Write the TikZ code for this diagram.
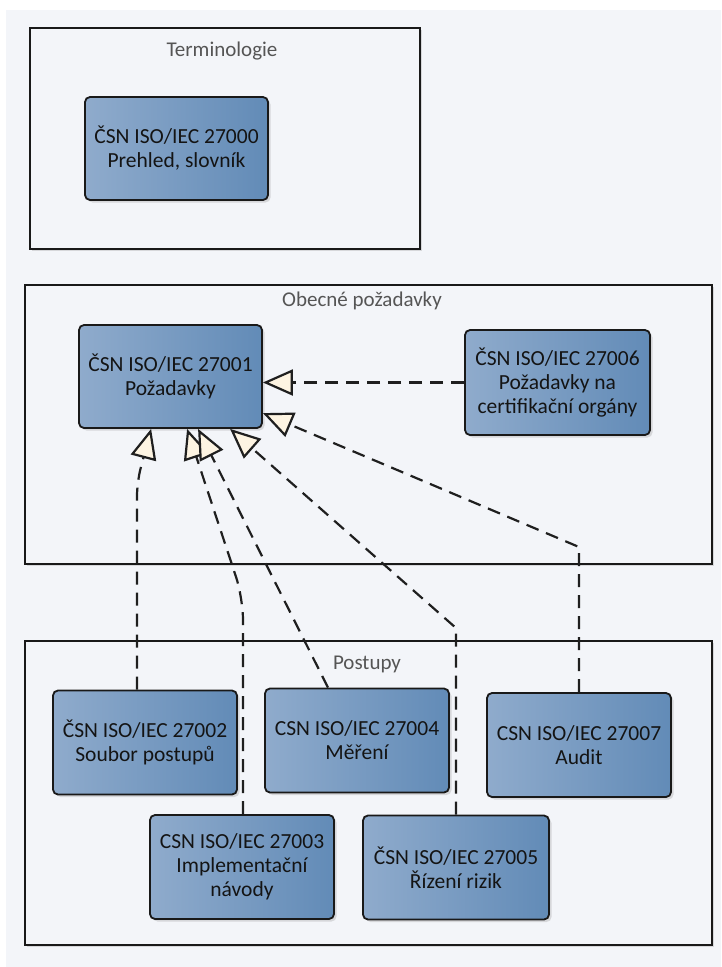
\documentclass[tikz,border=0pt]{standalone}
\usepackage{fontspec}
\setmainfont{Carlito}
\usetikzlibrary{arrows.meta,shadows,calc}
\definecolor{bgc}{RGB}{243,245,249}
\definecolor{boxL}{RGB}{143,171,204}
\definecolor{boxR}{RGB}{98,139,183}
\definecolor{tipc}{RGB}{253,244,226}
\definecolor{ttlc}{RGB}{85,85,85}
\begin{document}
\begin{tikzpicture}[x=1pt,y=-1pt,
  frm/.style={draw=black!90, line width=1.8pt, fill=bgc, drop shadow={shadow xshift=1.5pt, shadow yshift=-1.5pt, opacity=0.25}},
  ttl/.style={text=ttlc, font=\fontsize{21}{24}\selectfont, inner sep=0pt},
  std/.style={draw=black!90, line width=1.8pt, rounded corners=5pt, left color=boxL, right color=boxR,
    minimum width=184pt, minimum height=104pt, align=center, inner sep=2pt,
    font=\fontsize{21.5}{24}\selectfont, text=black!92,
    drop shadow={shadow xshift=2.5pt, shadow yshift=-2.5pt, opacity=0.25}},
  dep/.style={draw=black!88, line width=2.2pt, dash pattern=on 13pt off 8pt, line join=miter,
    -{Triangle[length=30pt,width=26pt,fill=tipc]}}
]
\useasboundingbox (0,0) rectangle (721,967);
\fill[white] (0,0) rectangle (721,967);
\fill[bgc] (6,10) rectangle (721,967);

% frames
\node[frm, minimum width=390pt, minimum height=221pt] (fT) at (225,138.5) {};
\node[frm, minimum width=687pt, minimum height=279pt] (fO) at (368.5,424.5) {};
\node[frm, minimum width=687pt, minimum height=304pt] (fP) at (368.5,793) {};
\node[ttl] (tT) at (222,51) {Terminologie};
\node[ttl] (tO) at (362,301) {Obecné požadavky};
\node[ttl] (tP) at (367,664) {Postupy};

% boxes
\node[std, minimum width=183pt, minimum height=103pt] (n0) at (176.5,148.5) {ČSN ISO/IEC 27000\\Prehled, slovník};
\node[std, minimum width=183pt, minimum height=103pt] (n1) at (170.5,376.5) {ČSN ISO/IEC 27001\\Požadavky};
\node[std, minimum width=185pt, minimum height=105pt] (n6) at (557.5,382.5) {ČSN ISO/IEC 27006\\Požadavky na\\certifikační orgány};
\node[std] (n2) at (145,742.5) {ČSN ISO/IEC 27002\\Soubor postupů};
\node[std] (n4) at (357,740.5) {CSN ISO/IEC 27004\\Měření};
\node[std] (n7) at (579,745) {CSN ISO/IEC 27007\\Audit};
\node[std] (n3) at (242,867) {CSN ISO/IEC 27003\\Implementační\\návody};
\node[std, minimum width=186pt] (n5) at (456,867.5) {ČSN ISO/IEC 27005\\Řízení rizik};

% bend points
\coordinate (b2) at (137,482);
\coordinate (b3) at (243,598);
\coordinate (b5) at (456,628);
\coordinate (b7) at (579,547);

% connectors
\draw[dep] (n6.west) -- (n6.west -| n1.east);
\draw[dep, rounded corners=14pt] ($(n2.north)+(-8,0)$) -- (b2) -- ($(n1.south west)+(73,0)$);
\draw[dep, rounded corners=22pt] ($(n3.north)+(1,0)$) -- (b3) -- ($(n1.south west)+(109,0)$);
\draw[dep] ($(n4.north)+(-29,0)$) -- ($(n1.south west)+(120,0)$);
\draw[dep] (n5.north) -- (b5) -- ($(n1.south west)+(152,0)$);
\draw[dep] (n7.north) -- (b7) -- ($(n1.north east)+(0,89)$);
\end{tikzpicture}
\end{document}
